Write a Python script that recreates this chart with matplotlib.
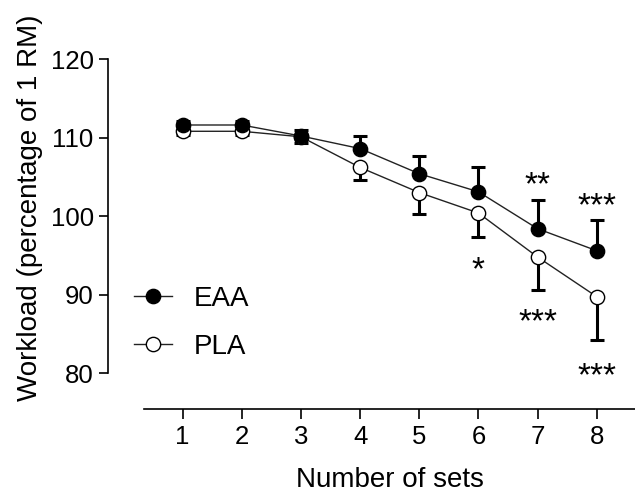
#!/usr/bin/env python3
"""Workload across sets, EAA vs PLA (GraphPad-style error bars)."""

import matplotlib
matplotlib.use("Agg")
import matplotlib.pyplot as plt
from matplotlib.transforms import ScaledTranslation

# ---- data ------------------------------------------------------------------
SETS = [1, 2, 3, 4, 5, 6, 7, 8]

EAA_MEAN = [111.6, 111.6, 110.2, 108.6, 105.4, 103.1, 98.4, 95.6]
EAA_ERR = [0.5, 0.5, 0.8, 1.6, 2.3, 3.2, 3.7, 3.9]   # upper bars only

PLA_MEAN = [110.8, 110.8, 110.1, 106.2, 103.0, 100.4, 94.8, 89.75]
PLA_ERR = [0.5, 0.5, 0.8, 1.6, 2.7, 3.1, 4.2, 5.5]   # lower bars only

# significance marks: (set, y, text)
STAR_SET = [7, 8, 6, 7, 8]
STAR_Y = [104.7, 102.1, 93.9, 87.3, 80.5]
STAR_TXT = ["**", "***", "*", "***", "***"]

Y_TICKS = [80, 90, 100, 110, 120]

plt.rcParams.update({
    "font.family": ["Liberation Sans", "DejaVu Sans"],
    "axes.linewidth": 1.2,
    "xtick.major.width": 1.2,
    "ytick.major.width": 1.2,
    "xtick.major.size": 7.2,
    "ytick.major.size": 6.5,
    "xtick.direction": "out",
    "ytick.direction": "out",
})

W, H = 635, 492
fig = plt.figure(figsize=(W / 100, H / 100), dpi=100)

# axes rectangle in pixels: left spine at x=108, x-axis line at y=409
ax_l, ax_r, ax_b, ax_t = 108.3, 635.0, 492 - 409.3, 492 - 45.0
ax = fig.add_axes([ax_l / W, ax_b / H, (ax_r - ax_l) / W, (ax_t - ax_b) / H])

px_x = 59.16     # pixels per set
px_y = 7.857     # pixels per workload unit
ax.set_xlim(1 - (182.6 - ax_l) / px_x, 8 + (ax_r - 596.7) / px_x)
ax.set_ylim(120 - (409.3 - 59.0) / px_y, 120 + (59.0 - 45.0) / px_y)

line_kw = dict(color="#222222", lw=1.0)
err_kw = dict(ecolor="black", elinewidth=2.2, capsize=5, capthick=2.2)

ax.errorbar(SETS, PLA_MEAN, yerr=[PLA_ERR, [0] * 8], fmt="none", zorder=2, **err_kw)
ax.plot(SETS, PLA_MEAN, marker="o", ms=10.3, mfc="white", mec="black", mew=1.0,
        label="PLA", zorder=3, **line_kw)

ax.errorbar(SETS, EAA_MEAN, yerr=[[0] * 8, EAA_ERR], fmt="none", zorder=4, **err_kw)
ax.plot(SETS, EAA_MEAN, marker="o", ms=10.3, mfc="black", mec="black", mew=1.0,
        label="EAA", zorder=5, **line_kw)

# asterisks sit high in their text box, nudge them down onto the read centres
star_tr = ax.transData + ScaledTranslation(0, -7 / 100, fig.dpi_scale_trans)
for s, y, t in zip(STAR_SET, STAR_Y, STAR_TXT):
    ax.text(s, y, t, ha="center", va="center", fontsize=24, transform=star_tr)

# ---- spines ----------------------------------------------------------------
ax.spines["top"].set_visible(False)
ax.spines["right"].set_visible(False)
ax.spines["left"].set_bounds(80, 120)
ax.spines["bottom"].set_bounds(0.35, 8.65)

ax.set_xticks(SETS)
ax.set_yticks(Y_TICKS)
ax.tick_params(axis="x", labelsize=18.5, pad=4)
ax.tick_params(axis="y", labelsize=18.5, pad=4)

fig.text(389.5 / W, 1 - 487.0 / H, "Number of sets", ha="center",
         va="baseline", fontsize=20)
fig.text(30 / W, 1 - 208 / H, "Workload (percentage of 1 RM)", rotation=90,
         ha="center", va="center", fontsize=20)

handles, labels = ax.get_legend_handles_labels()
ax.legend(handles[::-1], labels[::-1], loc="upper left",
          bbox_to_anchor=(134 / W, 1 - 285.5 / H), bbox_transform=fig.transFigure,
          frameon=False, fontsize=20, handlelength=1.36, handletextpad=0.8,
          labelspacing=0.8, borderpad=0, borderaxespad=0)

fig.savefig("out.png", dpi=100)
